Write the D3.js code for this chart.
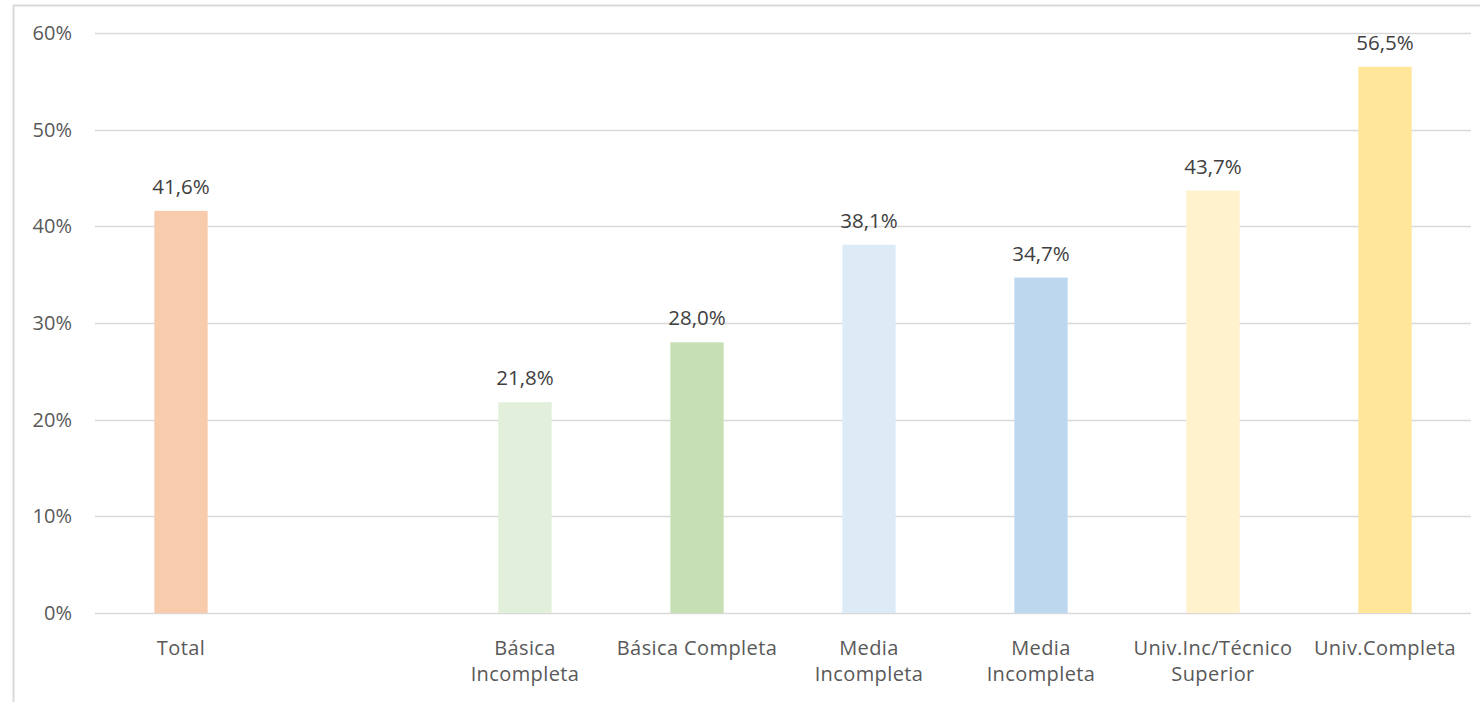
<!DOCTYPE html>
<html>
<head>
<meta charset="utf-8">
<script src="https://cdn.jsdelivr.net/npm/d3@7"></script>
<style>
  html, body { margin: 0; padding: 0; background: #fff; }
  svg { display: block; font-family: "Open Sans", "Noto Sans", sans-serif; }
</style>
</head>
<body>
<svg id="chart" width="1480" height="702"></svg>
<script>
// Share by education level
const categories = ["Total", "", "Básica\nIncompleta", "Básica Completa", "Media\nIncompleta", "Media\nIncompleta ", "Univ.Inc/Técnico\nSuperior", "Univ.Completa"];
const values = [41.6, null, 21.8, 28.0, 38.1, 34.7, 43.7, 56.5];
const colors = ["#F8CBAD", "#fff", "#E2EFDA", "#C6E0B4", "#DDEBF7", "#BDD7EE", "#FFF2CC", "#FFE699"];
const yTicks = [0, 10, 20, 30, 40, 50, 60];

const svg = d3.select("#chart");
const W = 1480, H = 702;
const plot = { left: 95, right: 1471, top: 33, bottom: 613 };

// outer frame
svg.append("path")
  .attr("d", `M13.5,${H} V5.5 H${W}`)
  .attr("fill", "none").attr("stroke", "#d9d9d9").attr("stroke-width", 2);

const x = d3.scaleBand().domain(d3.range(categories.length))
  .range([plot.left, plot.right]).paddingInner(0.69).paddingOuter(0.345);
const y = d3.scaleLinear().domain([0, 60]).range([plot.bottom, plot.top]);

// gridlines
svg.append("g").selectAll("line").data(yTicks).join("line")
  .attr("x1", plot.left).attr("x2", plot.right)
  .attr("y1", d => Math.round(y(d)) + 0.5).attr("y2", d => Math.round(y(d)) + 0.5)
  .attr("stroke", "#d9d9d9").attr("stroke-width", 1.3);

// y axis labels
const yAxis = d3.axisLeft(y).tickValues(yTicks).tickFormat(d => d + "%").tickSize(0).tickPadding(0);
const ya = svg.append("g").attr("transform", `translate(72,0)`).call(yAxis);
ya.select(".domain").remove();
ya.selectAll("text").attr("fill", "#595959").style("font-size", "20px")
  .style("font-family", "'Open Sans', sans-serif");

// bars
const bars = categories.map((c, i) => ({ i, v: values[i], color: colors[i] })).filter(d => d.v != null);
svg.append("g").selectAll("rect").data(bars).join("rect")
  .attr("x", d => x(d.i)).attr("width", x.bandwidth())
  .attr("y", d => y(d.v)).attr("height", d => y(0) - y(d.v))
  .attr("fill", d => d.color);

// value labels
svg.append("g").selectAll("text").data(bars).join("text")
  .attr("x", d => x(d.i) + x.bandwidth() / 2)
  .attr("y", d => y(d.v) - 17)
  .attr("text-anchor", "middle")
  .attr("fill", "#404040").style("font-size", "20.5px")
  .text(d => d.v.toFixed(1).replace(".", ",") + "%");

// category labels
const cat = svg.append("g").selectAll("text").data(categories.map((c, i) => ({ c, i })))
  .join("text")
  .attr("x", d => x(d.i) + x.bandwidth() / 2)
  .attr("y", 655)
  .attr("text-anchor", "middle")
  .attr("fill", "#595959").style("font-size", "20px").style("letter-spacing", "0.4px");
cat.each(function(d) {
  const lines = d.c.trim().split("\n");
  d3.select(this).selectAll("tspan").data(lines).join("tspan")
    .attr("x", x(d.i) + x.bandwidth() / 2)
    .attr("dy", (l, j) => j === 0 ? 0 : 26)
    .text(l => l);
});
</script>
</body>
</html>
